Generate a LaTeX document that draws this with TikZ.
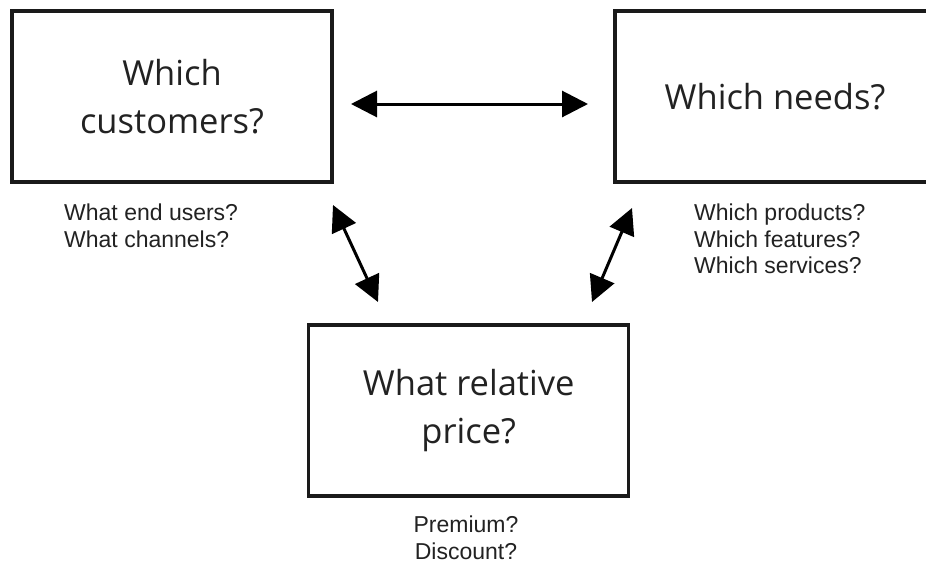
\documentclass[tikz,border=0pt]{standalone}
\usepackage{fontspec}
\setmainfont{Open Sans}
\newfontfamily\notefont{Liberation Sans}
\usetikzlibrary{arrows.meta}
\definecolor{ink}{HTML}{1A1A1A}
\definecolor{textgray}{HTML}{222222}
\begin{document}
\begin{tikzpicture}[x=1pt,y=-1pt,
  qbox/.style={draw=ink, line width=3.5pt, minimum width=320pt, minimum height=171pt,
    inner sep=0pt, align=center, text=textgray, font=\fontsize{34.5}{48}\selectfont},
  note/.style={inner sep=0pt, text=textgray, font=\notefont\fontsize{23}{26.5}\selectfont},
  link/.style={line width=3pt, {Triangle[length=26pt,width=26pt]}-{Triangle[length=26pt,width=26pt]}}]
  \useasboundingbox (0,0) rectangle (926,565);
  \fill[white] (0,0) rectangle (926,565);

  % question boxes
  \node[qbox] (cust)  at (172,96.7)    {Which\\customers?};
  \node[qbox] (needs) at (775,96.7)    {Which needs?};
  \node[qbox] (price) at (468.7,410.3) {What relative\\price?};

  % notes under the boxes
  \node[note, anchor=north west, align=left] (custnote) at (64,204)
    {What end users?\\What channels?};
  \node[note, anchor=north west, align=left] (needsnote) at (694,204)
    {Which products?\\Which features?\\Which services?};
  \node[note, anchor=north, align=center] (pricenote) at (466,516)
    {Premium?\\Discount?};

  % arrow ends
  \coordinate (cn-e)  at (351,104);
  \coordinate (nd-w)  at (588,104);
  \coordinate (cu-s)  at (333,205);
  \coordinate (pr-nw) at (378,302);
  \coordinate (nd-s)  at (632,208);
  \coordinate (pr-ne) at (592,302);

  \draw[link] (cn-e) -- (nd-w);
  \draw[link] (cu-s) -- (pr-nw);
  \draw[link] (nd-s) -- (pr-ne);
\end{tikzpicture}
\end{document}
